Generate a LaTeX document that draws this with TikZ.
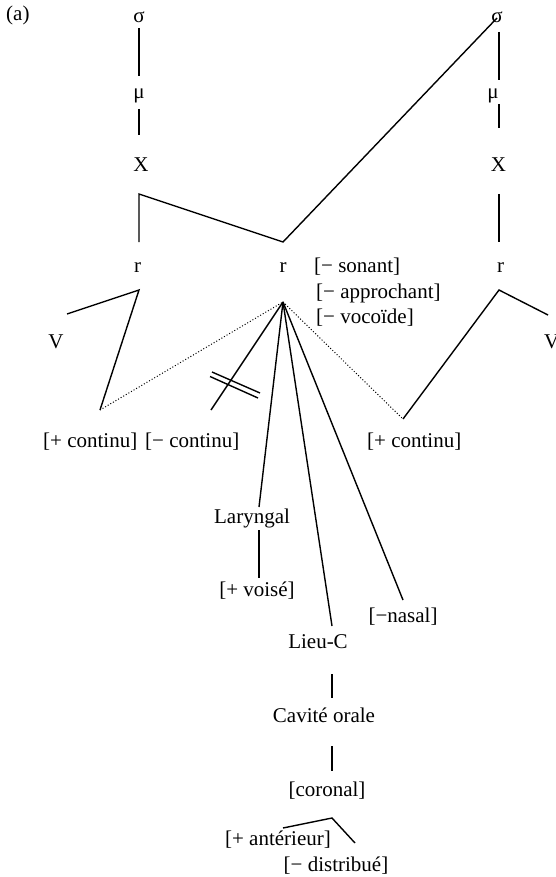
\documentclass[tikz,border=0pt]{standalone}
\usepackage{fontspec}
\setmainfont{Liberation Serif}
\begin{document}
\begin{tikzpicture}[x=1pt,y=-1pt,
  lbl/.style={inner sep=0pt, font=\fontsize{21}{25}\selectfont},
  ln/.style={line width=1.4pt},
  dotln/.style={line width=1pt, dash pattern=on 1pt off 2pt}]
\useasboundingbox (0,0) rectangle (556,877);
% labels
\node[lbl,anchor=base west] (a) at (6,21) {(a)};
\node[lbl,anchor=base] (s1) at (139,22.5) {σ};
\node[lbl,anchor=base] (m1) at (139,99) {μ};
\node[lbl,anchor=base] (x1) at (141,172) {X};
\node[lbl,anchor=base] (s2) at (497,23) {σ};
\node[lbl,anchor=base] (m2) at (493,99) {μ};
\node[lbl,anchor=base] (x2) at (498.5,172) {X};
\node[lbl,anchor=base] (r1) at (137.5,272) {r};
\node[lbl,anchor=base] (r2) at (283,272) {r};
\node[lbl,anchor=base] (r3) at (500.5,272) {r};
\node[lbl,anchor=base west] (son) at (314,272) {[− sonant]};
\node[lbl,anchor=base west] (app) at (316,298) {[− approchant]};
\node[lbl,anchor=base west] (voc) at (316,323.5) {[− vocoïde]};
\node[lbl,anchor=base] (v1) at (56,348) {V};
\node[lbl,anchor=base west] (v2) at (544,348) {V};
\node[lbl,anchor=base west] (pc1) at (43,447) {[+ continu]};
\node[lbl,anchor=base west] (mc) at (145,447) {[− continu]};
\node[lbl,anchor=base west] (pc2) at (367,447) {[+ continu]};
\node[lbl,anchor=base] (lar) at (252,523) {Laryngal};
\node[lbl,anchor=base] (voi) at (257,596) {[+ voisé]};
\node[lbl,anchor=base] (nas) at (403,622) {[−nasal]};
\node[lbl,anchor=base] (lieu) at (318,648) {Lieu-C};
\node[lbl,anchor=base] (cav) at (324,722) {Cavité orale};
\node[lbl,anchor=base] (cor) at (327,796) {[coronal]};
\node[lbl,anchor=base] (ant) at (278,845) {[+ antérieur]};
\node[lbl,anchor=base] (dis) at (336,871) {[− distribué]};
% connector points
\coordinate (s1b) at (139,28);   \coordinate (m1t) at (139,76);
\coordinate (m1b) at (139,109);  \coordinate (x1t) at (139,135);
\coordinate (s2b) at (499,32);   \coordinate (m2t) at (499,80);
\coordinate (m2b) at (499,104);  \coordinate (x2t) at (499,128);
\coordinate (r1t) at (139,242);  \coordinate (x1b) at (139,194);
\coordinate (r2t) at (283,242);  \coordinate (s2c) at (497,18);
\coordinate (x2b) at (499,194);  \coordinate (r3t) at (499,242);
\coordinate (v1e) at (67,314);   \coordinate (r1b) at (139,290);
\coordinate (pc1t) at (100,410);
\coordinate (r2b) at (283,302);
\coordinate (mct) at (211,410);
\coordinate (pc2t) at (403,419); \coordinate (r3b) at (499,290);
\coordinate (v2e) at (548,315);
\coordinate (lart) at (259,507); \coordinate (larb) at (259,530);
\coordinate (voit) at (259,578);
\coordinate (lieut) at (332,626); \coordinate (nast) at (403,600);
\coordinate (lieub) at (332,674); \coordinate (cavt) at (332,698);
\coordinate (cavb) at (332,746); \coordinate (cort) at (332,771);
\coordinate (antt) at (283,828); \coordinate (corb) at (332,818);
\coordinate (dist) at (355,843);
\coordinate (b1a) at (212,372); \coordinate (b1b) at (260,393);
\coordinate (b2a) at (210,376.5); \coordinate (b2b) at (258,398);
% connectors
\draw[ln] (s1b) -- (m1t);
\draw[ln] (m1b) -- (x1t);
\draw[ln] (s2b) -- (m2t);
\draw[ln] (m2b) -- (x2t);
\draw[ln] (r1t) -- (x1b) -- (r2t) -- (s2c);
\draw[ln] (x2b) -- (r3t);
\draw[ln] (v1e) -- (r1b) -- (pc1t);
\draw[dotln] (pc1t) -- (r2b);
\draw[dotln] (r2b) -- (pc2t);
\draw[ln] (pc2t) -- (r3b) -- (v2e);
\draw[ln] (r2b) -- (mct);
\draw[ln] (b1a) -- (b1b);
\draw[ln] (b2a) -- (b2b);
\draw[ln] (r2b) -- (lart);
\draw[ln] (r2b) -- (lieut);
\draw[ln] (r2b) -- (nast);
\draw[ln] (larb) -- (voit);
\draw[ln] (lieub) -- (cavt);
\draw[ln] (cavb) -- (cort);
\draw[ln] (antt) -- (corb) -- (dist);
\end{tikzpicture}
\end{document}
